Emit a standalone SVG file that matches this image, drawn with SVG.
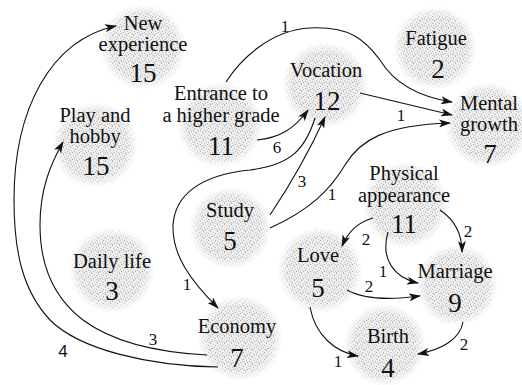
<svg xmlns="http://www.w3.org/2000/svg" width="522" height="385" viewBox="0 0 522 385" font-family="Liberation Serif, Times New Roman, DejaVu Serif, Noto Serif, serif">
<style>
.blob{fill:url(#stip);mask:url(#fade)}
.t{font-size:20.5px;fill:#111;text-anchor:middle}
.n{font-size:27px;fill:#111;text-anchor:middle}
.e{fill:none;stroke:#111;stroke-width:1.1;marker-end:url(#ah)}
.l{font-size:17px;fill:#111;text-anchor:middle}
</style>
<defs>
<pattern id="stip" width="7" height="7" patternUnits="userSpaceOnUse">
<rect width="7" height="7" fill="#eeeeee"/>
<rect x="0" y="0" width="1" height="1" fill="#b0b0b0"/>
<rect x="3" y="1" width="1" height="1" fill="#c4c4c4"/>
<rect x="5" y="2" width="1" height="1" fill="#a8a8a8"/>
<rect x="1" y="3" width="1" height="1" fill="#bcbcbc"/>
<rect x="4" y="4" width="1" height="1" fill="#b4b4b4"/>
<rect x="6" y="5" width="1" height="1" fill="#c8c8c8"/>
<rect x="2" y="5" width="1" height="1" fill="#a6a6a6"/>
<rect x="0" y="6" width="1" height="1" fill="#c0c0c0"/>
<rect x="5" y="6" width="1" height="1" fill="#d0d0d0"/>
</pattern>
<radialGradient id="fg">
<stop offset="0.75" stop-color="#fff"/>
<stop offset="1" stop-color="#fff" stop-opacity="0"/>
</radialGradient>
<mask id="fade" maskContentUnits="objectBoundingBox">
<rect width="1" height="1" fill="url(#fg)"/>
</mask>
<marker id="ah" markerWidth="12" markerHeight="8" refX="11" refY="4" orient="auto" markerUnits="userSpaceOnUse">
<path d="M0,0 L12,4 L0,8 L3,4 z" fill="#111"/>
</marker>
</defs>
<rect width="522" height="385" fill="#fff"/>

<g id="new-experience"><circle class="blob" cx="143" cy="47" r="43"/><text class="t" font-family="Liberation Serif, serif" x="143" y="30">New</text><text class="t" font-family="Liberation Serif, serif" x="143" y="51">experience</text><text class="n" font-family="Liberation Serif, serif" x="143" y="82">15</text></g>
<g id="play-and-hobby"><circle class="blob" cx="95" cy="145" r="43"/><text class="t" font-family="Liberation Serif, serif" x="95" y="122">Play and</text><text class="t" font-family="Liberation Serif, serif" x="95" y="143">hobby</text><text class="n" font-family="Liberation Serif, serif" x="96" y="175">15</text></g>
<g id="entrance"><circle class="blob" cx="220" cy="125" r="43"/><text class="t" font-family="Liberation Serif, serif" x="221" y="100">Entrance to</text><text class="t" font-family="Liberation Serif, serif" x="221" y="122">a higher grade</text><text class="n" font-family="Liberation Serif, serif" x="221" y="155">11</text></g>
<g id="vocation"><circle class="blob" cx="325" cy="85" r="43"/><text class="t" font-family="Liberation Serif, serif" x="326" y="77">Vocation</text><text class="n" font-family="Liberation Serif, serif" x="327" y="110">12</text></g>
<g id="fatigue"><circle class="blob" cx="435" cy="48" r="42"/><text class="t" font-family="Liberation Serif, serif" x="436" y="45">Fatigue</text><text class="n" font-family="Liberation Serif, serif" x="438" y="78">2</text></g>
<g id="mental-growth"><circle class="blob" cx="488" cy="125" r="43"/><text class="t" font-family="Liberation Serif, serif" x="489" y="110">Mental</text><text class="t" font-family="Liberation Serif, serif" x="489" y="131">growth</text><text class="n" font-family="Liberation Serif, serif" x="490" y="163">7</text></g>
<g id="physical-appearance"><circle class="blob" cx="405" cy="205" r="43"/><text class="t" font-family="Liberation Serif, serif" x="404" y="180">Physical</text><text class="t" font-family="Liberation Serif, serif" x="404" y="202">appearance</text><text class="n" font-family="Liberation Serif, serif" x="404" y="233">11</text></g>
<g id="study"><circle class="blob" cx="230" cy="228" r="41"/><text class="t" font-family="Liberation Serif, serif" x="230" y="217">Study</text><text class="n" font-family="Liberation Serif, serif" x="230" y="250">5</text></g>
<g id="daily-life"><circle class="blob" cx="112" cy="270" r="43"/><text class="t" font-family="Liberation Serif, serif" x="112" y="268">Daily life</text><text class="n" font-family="Liberation Serif, serif" x="112" y="300">3</text></g>
<g id="economy"><circle class="blob" cx="240" cy="338" r="43"/><text class="t" font-family="Liberation Serif, serif" x="237" y="333">Economy</text><text class="n" font-family="Liberation Serif, serif" x="237" y="367">7</text></g>
<g id="love"><circle class="blob" cx="320" cy="270" r="43"/><text class="t" font-family="Liberation Serif, serif" x="318" y="262">Love</text><text class="n" font-family="Liberation Serif, serif" x="318" y="297">5</text></g>
<g id="marriage"><circle class="blob" cx="457" cy="285" r="41"/><text class="t" font-family="Liberation Serif, serif" x="455" y="278">Marriage</text><text class="n" font-family="Liberation Serif, serif" x="455" y="312">9</text></g>
<g id="birth"><circle class="blob" cx="385" cy="345" r="41"/><text class="t" font-family="Liberation Serif, serif" x="388" y="343">Birth</text><text class="n" font-family="Liberation Serif, serif" x="388" y="377">4</text></g>

<g id="connectors">
<path class="e" d="M218,367 C150,366 80,350 50,320 C22,290 14,250 14,200 C14,110 50,40 116,26"/>
<path class="e" d="M207,355 C150,352 110,340 83,320 C50,295 40,260 40,225 C40,190 50,165 63,142"/>
<path class="e" d="M226,82 C240,60 270,30 310,28 C350,26 365,40 380,60 C395,85 420,97 452,102"/>
<path class="e" d="M360,93 L452,115"/>
<path class="e" d="M270,228 C310,210 330,190 345,165 C360,140 385,125 450,123"/>
<path class="e" d="M257,140 C280,138 295,128 308,110"/>
<path class="e" d="M270,215 C290,185 310,150 325,117"/>
<path class="e" d="M315,118 C305,150 290,165 250,170 C200,175 175,195 173,225 C172,255 190,280 218,308"/>
<path class="e" d="M373,218 C358,222 348,232 342,246"/>
<path class="e" d="M440,210 C455,220 462,235 462,252"/>
<path class="e" d="M388,232 C380,260 395,278 418,283"/>
<path class="e" d="M347,290 C365,300 390,300 420,296"/>
<path class="e" d="M310,307 C315,335 335,352 358,356"/>
<path class="e" d="M463,322 C460,340 440,350 418,354"/>
<text class="l" x="63" y="357" font-family="Liberation Sans, Arial, sans-serif" font-size="16">4</text>
<text class="l" font-family="Liberation Serif, serif" x="153" y="345">3</text>
<text class="l" font-family="Liberation Serif, serif" x="285" y="32">1</text>
<text class="l" font-family="Liberation Serif, serif" x="401" y="121">1</text>
<text class="l" font-family="Liberation Serif, serif" x="332" y="200">1</text>
<text class="l" font-family="Liberation Serif, serif" x="277" y="153">6</text>
<text class="l" font-family="Liberation Serif, serif" x="302" y="187">3</text>
<text class="l" font-family="Liberation Serif, serif" x="187" y="290">1</text>
<text class="l" font-family="Liberation Serif, serif" x="366" y="245">2</text>
<text class="l" font-family="Liberation Serif, serif" x="468" y="237">2</text>
<text class="l" font-family="Liberation Serif, serif" x="383" y="277">1</text>
<text class="l" font-family="Liberation Serif, serif" x="369" y="292">2</text>
<text class="l" font-family="Liberation Serif, serif" x="338" y="367">1</text>
<text class="l" font-family="Liberation Serif, serif" x="464" y="350">2</text>
</g>
</svg>
